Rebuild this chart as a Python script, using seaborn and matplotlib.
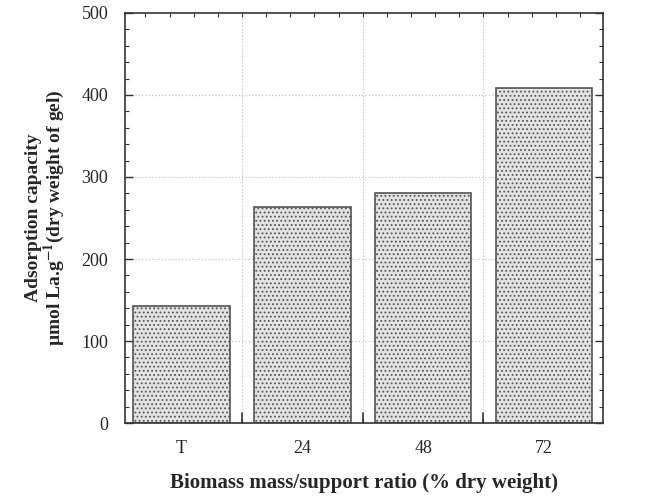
import numpy as np
import pandas as pd
import seaborn as sns
import matplotlib
matplotlib.use("Agg")
from matplotlib import pyplot as plt
from matplotlib.ticker import MultipleLocator, FixedLocator

ratios = ["T", "24", "48", "72"]
capacity = [143, 264, 280, 409]
y_ticks = [0, 100, 200, 300, 400, 500]

sns.set_style("ticks")
plt.rcParams['font.family'] = ['Liberation Serif', 'DejaVu Serif']
plt.rcParams['mathtext.fontset'] = 'stix'
plt.rcParams['hatch.color'] = '#a8a8a8'
plt.rcParams['hatch.linewidth'] = 0.8

df = pd.DataFrame({"ratio": ratios, "capacity": capacity})

fig = plt.figure(figsize=(6.54, 4.96), dpi=100)
ax = fig.add_axes([0.191, 0.147, 0.731, 0.827])

sns.barplot(data=df, x="ratio", y="capacity", ax=ax, color="#e2e2e2",
            width=0.8, edgecolor="#555555", linewidth=1.2, saturation=1)
for p in ax.patches:
    p.set_hatch("....")

ax.set_xlim(-0.47, 3.49)
ax.set_ylim(0, 500)
ax.set_yticks(y_ticks)
ax.yaxis.set_minor_locator(MultipleLocator(20))
ax.xaxis.set_minor_locator(FixedLocator(np.arange(-0.3, 3.5, 0.2)))

# dotted grid at the major y ticks and between the bars
for yv in y_ticks[1:-1]:
    ax.axhline(yv, color="#bbbbbb", ls=(0, (1, 2)), lw=0.8, zorder=0)
for xv in [0.5, 1.5, 2.5]:
    ax.axvline(xv, color="#bbbbbb", ls=(0, (1, 2)), lw=0.8, zorder=0)
    ax.plot([xv, xv], [0, 12], color="#333333", lw=1.2, zorder=3)

ax.tick_params(axis="both", which="both", direction="in", top=True, right=True,
               color="#333333")
ax.tick_params(axis="both", which="major", length=6, width=1, labelsize=13, pad=12)
ax.tick_params(axis="x", which="major", length=0, pad=12)
ax.tick_params(axis="both", which="minor", length=3, width=0.8)

for s in ax.spines.values():
    s.set_color("#333333")
    s.set_linewidth(1.2)

ax.set_xlabel("Biomass mass/support ratio (% dry weight)", fontsize=15,
              fontweight="bold", labelpad=12)
ax.set_ylabel("Adsorption capacity\n\u00b5mol La.g$^{\\mathbf{-1}}$(dry weight of gel)",
              fontsize=14, fontweight="bold", labelpad=10, linespacing=1.0)

fig.savefig("out.png", dpi=100)
